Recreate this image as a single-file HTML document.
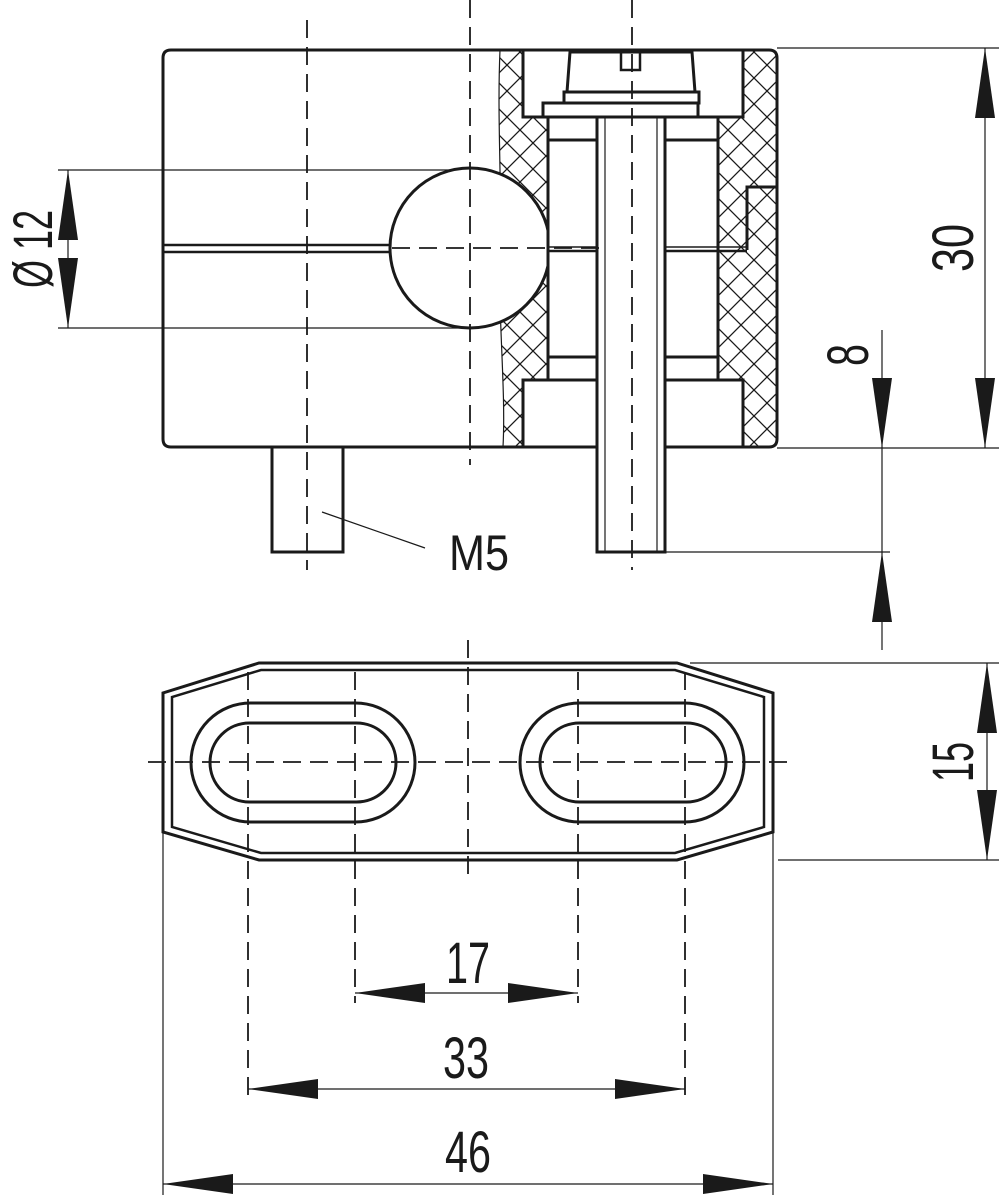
<!DOCTYPE html>
<html><head><meta charset="utf-8"><style>
html,body{margin:0;padding:0;background:#fff}
svg{display:block}
text{font-family:"Liberation Sans",sans-serif;fill:#1a1a1a}
</style></head><body>
<svg width="999" height="1200" viewBox="0 0 999 1200" xmlns="http://www.w3.org/2000/svg">
<defs>
<pattern id="h" patternUnits="userSpaceOnUse" width="26" height="26">
<path d="M0 0L26 26M26 0L0 26" stroke="#1a1a1a" stroke-width="1.3" fill="none"/>
</pattern>
</defs>
<g stroke="#1a1a1a" fill="none" stroke-linecap="butt">
<path d="M500 50 C497 120 502 180 500 250 C498 320 506 390 503 447 L523 447 L523 380 L548 380 L548 117 L523 117 L523 50 Z" fill="url(#h)" stroke="none"/>
<path d="M743 50 L770 50 Q777 50 777 58 L777 440 Q777 447 770 447 L743 447 L743 380 L718 380 L718 117 L743 117 Z" fill="url(#h)" stroke="none"/>
<path d="M500 50 C497 120 502 180 500 250 C498 320 506 390 503 447" stroke-width="1.2"/>
<path d="M171 50 L769 50 Q777 50 777 58 L777 439 Q777 447 769 447 L171 447 Q163 447 163 439 L163 58 Q163 50 171 50 Z" stroke-width="3"/>
<line x1="58" y1="170" x2="470" y2="170" stroke-width="1.2"/>
<line x1="58" y1="328" x2="470" y2="328" stroke-width="1.2"/>
<line x1="163" y1="245" x2="392" y2="245" stroke-width="2.5"/>
<line x1="163" y1="252" x2="392" y2="252" stroke-width="2.5"/>
<circle cx="470" cy="248" r="80" fill="#fff" stroke-width="3"/>
<rect x="523" y="50" width="220" height="67" fill="#fff" stroke-width="3"/>
<rect x="523" y="380" width="220" height="67" fill="#fff" stroke-width="3"/>
<rect x="548" y="117" width="170" height="263" fill="#fff" stroke-width="3"/>
<path d="M570 52 L692 52 L695 92 L567 92 Z" stroke-width="3"/>
<rect x="564" y="92" width="135" height="11" stroke-width="3"/>
<rect x="543" y="103" width="155" height="14" stroke-width="3"/>
<rect x="621" y="52" width="19" height="18" stroke-width="2.5"/>
<line x1="548" y1="140" x2="597" y2="140" stroke-width="3"/>
<line x1="665" y1="140" x2="718" y2="140" stroke-width="3"/>
<line x1="548" y1="357" x2="597" y2="357" stroke-width="3"/>
<line x1="665" y1="357" x2="718" y2="357" stroke-width="3"/>
<line x1="548" y1="247" x2="597" y2="247" stroke-width="1.5"/>
<line x1="548" y1="251" x2="597" y2="251" stroke-width="2.5"/>
<line x1="665" y1="247" x2="747" y2="247" stroke-width="1.5"/>
<line x1="665" y1="251" x2="747" y2="251" stroke-width="2.5"/>
<path d="M747 250 L747 187 L777 187" stroke-width="3"/>
<rect x="597" y="117" width="68" height="435" fill="#fff" stroke-width="3"/>
<line x1="605" y1="117" x2="605" y2="552" stroke-width="1.2"/>
<line x1="657" y1="117" x2="657" y2="552" stroke-width="1.2"/>
<rect x="272" y="447" width="71" height="105" stroke-width="3"/>
<g stroke-width="1.8" stroke-dasharray="18 9">
<line x1="307" y1="20" x2="307" y2="570"/>
<line x1="470" y1="0" x2="470" y2="465"/>
<line x1="632" y1="0" x2="632" y2="570"/>
<line x1="392" y1="248" x2="600" y2="248"/>
</g>
<line x1="322" y1="512" x2="425" y2="548" stroke-width="1.2"/>
<line x1="68" y1="170" x2="68" y2="328" stroke-width="1.2"/>
<line x1="777" y1="48" x2="1000" y2="48" stroke-width="1.2"/>
<line x1="777" y1="448" x2="1000" y2="448" stroke-width="1.2"/>
<line x1="985" y1="48" x2="985" y2="448" stroke-width="1.2"/>
<line x1="882" y1="330" x2="882" y2="650" stroke-width="1.2"/>
<line x1="665" y1="552" x2="890" y2="552" stroke-width="1.2"/>

<path d="M259 663 L677 663 L773 693 L773 832 L677 860 L259 860 L163 832 L163 693 Z" stroke-width="3"/>
<path d="M261 670 L675 670 L764 697 L764 827 L675 853 L261 853 L172 827 L172 697 Z" stroke-width="2.5"/>
<rect x="191" y="703" width="224" height="119" rx="59.5" stroke-width="3"/>
<rect x="210" y="723" width="186" height="79" rx="39.5" stroke-width="3"/>
<rect x="520" y="703" width="224" height="119" rx="59.5" stroke-width="3"/>
<rect x="540" y="723" width="186" height="79" rx="39.5" stroke-width="3"/>
<g stroke-width="1.8" stroke-dasharray="18 9">
<line x1="148" y1="762" x2="792" y2="762"/>
<line x1="468" y1="640" x2="468" y2="880"/>
<line x1="248" y1="672" x2="248" y2="1098"/>
<line x1="685" y1="672" x2="685" y2="1098"/>
<line x1="355" y1="672" x2="355" y2="1003"/>
<line x1="578" y1="672" x2="578" y2="1003"/>
</g>
<line x1="163" y1="832" x2="163" y2="1195" stroke-width="1.2"/>
<line x1="773" y1="832" x2="773" y2="1195" stroke-width="1.2"/>
<line x1="690" y1="663" x2="1000" y2="663" stroke-width="1.2"/>
<line x1="778" y1="860" x2="1000" y2="860" stroke-width="1.2"/>
<line x1="987" y1="663" x2="987" y2="860" stroke-width="1.2"/>
<line x1="355" y1="993" x2="578" y2="993" stroke-width="1.2"/>
<line x1="248" y1="1089" x2="685" y2="1089" stroke-width="1.2"/>
<line x1="163" y1="1184" x2="773" y2="1184" stroke-width="1.2"/>
</g>
<g fill="#1a1a1a">
<polygon points="68,170 58,240 78,240"/>
<polygon points="68,328 58,258 78,258"/>
<polygon points="985,48 975,118 995,118"/>
<polygon points="985,448 975,378 995,378"/>
<polygon points="882,448 872,378 892,378"/>
<polygon points="882,552 872,622 892,622"/>
<polygon points="987,663 977,733 997,733"/>
<polygon points="987,860 977,790 997,790"/>
<polygon points="355,993 425,983 425,1003"/>
<polygon points="578,993 508,983 508,1003"/>
<polygon points="248,1089 318,1079 318,1099"/>
<polygon points="685,1089 615,1079 615,1099"/>
<polygon points="163,1184 233,1174 233,1194"/>
<polygon points="773,1184 703,1174 703,1194"/>
</g>
<text x="449" y="570" font-size="50" textLength="60" lengthAdjust="spacingAndGlyphs">M5</text>
<text x="468" y="983" font-size="58" text-anchor="middle" textLength="44" lengthAdjust="spacingAndGlyphs">17</text>
<text x="466" y="1078" font-size="58" text-anchor="middle" textLength="46" lengthAdjust="spacingAndGlyphs">33</text>
<text x="468" y="1172" font-size="58" text-anchor="middle" textLength="46" lengthAdjust="spacingAndGlyphs">46</text>
<text transform="translate(52,249) rotate(-90)" font-size="56" text-anchor="middle" textLength="78" lengthAdjust="spacingAndGlyphs">Ø 12</text>
<text transform="translate(973,248) rotate(-90)" font-size="58" text-anchor="middle" textLength="48" lengthAdjust="spacingAndGlyphs">30</text>
<text transform="translate(868,355) rotate(-90)" font-size="58" text-anchor="middle" textLength="22" lengthAdjust="spacingAndGlyphs">8</text>
<text transform="translate(973,762) rotate(-90)" font-size="58" text-anchor="middle" textLength="40" lengthAdjust="spacingAndGlyphs">15</text>
</svg>
</body></html>
